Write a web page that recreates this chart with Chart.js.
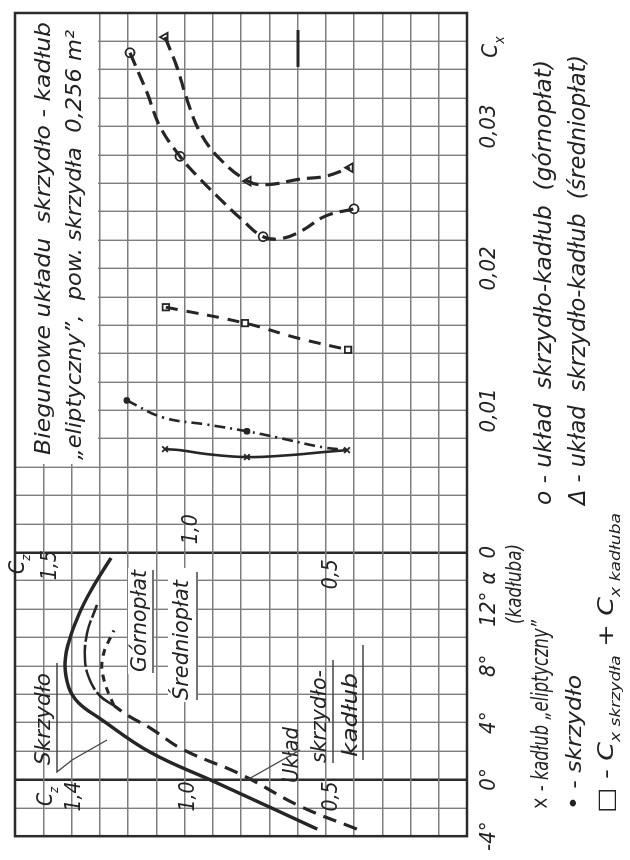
<!DOCTYPE html>
<html>
<head>
<meta charset="utf-8">
<script src="https://cdn.jsdelivr.net/npm/chart.js@4.4.1/dist/chart.umd.min.js"></script>
<style>
  html, body { margin: 0; padding: 0; background: #fff; overflow: hidden; }
  /* the whole figure is printed turned on its side */
  #obrot { position: absolute; left: 0; top: 860px; width: 860px; height: 630px;
           transform-origin: 0 0; transform: rotate(-90deg); }
</style>
</head>
<body>
<div id="obrot"><canvas id="wykres" width="860" height="630"></canvas></div>
<script>
// --- Cz(alfa), lewa czesc wykresu ---
const alfaSkrzydlo = [-3.5, -0.2, 1.9, 4.3, 5.4, 6.5, 8.2, 10.0, 12.1, 13.8, 15.6];
const czSkrzydlo   = [0.53, 0.89, 1.12, 1.30, 1.375, 1.41, 1.423, 1.405, 1.363, 1.317, 1.26];
const alfaUklad    = [-3.5, -1.9, 0.35, 2.1, 3.6, 4.5, 5.2];
const czUklad      = [0.39, 0.59, 0.80, 1.005, 1.12, 1.20, 1.25];
const alfaGorno    = [5.2, 5.9, 7.0, 8.4, 10.3, 12.3];
const czGorno      = [1.25, 1.30, 1.335, 1.352, 1.345, 1.31];
const alfaSrednio  = [5.2, 7.0, 8.6, 10.5];
const czSrednio    = [1.25, 1.285, 1.29, 1.25];

// --- biegunowe Cz(Cx), prawa czesc ---
const cxKadlub  = [0.00727, 0.0072, 0.00692, 0.00671, 0.00685, 0.00706, 0.0072];
const czKadlub  = [1.069, 1.016, 0.92, 0.779, 0.627, 0.51, 0.425];
const cxSkrz    = [0.0107, 0.0095, 0.0090, 0.00853, 0.0081, 0.0074, 0.0072];
const czSkrz    = [1.204, 1.076, 0.92, 0.779, 0.673, 0.51, 0.414];
const cxSuma    = [0.01727, 0.01615, 0.0151, 0.01427];
const czSuma    = [1.066, 0.786, 0.60, 0.421];
const cxGorno   = [0.0352, 0.0324, 0.0300, 0.0279, 0.0263, 0.0247, 0.0235, 0.02224, 0.0221, 0.0226, 0.0237, 0.0242];
const czGornoP  = [1.193, 1.133, 1.087, 1.016, 0.945, 0.864, 0.80, 0.722, 0.66, 0.59, 0.50, 0.40];
const cxSrednio = [0.0363, 0.0342, 0.0319, 0.0296, 0.0277, 0.02615, 0.0259, 0.0263, 0.0265, 0.0271];
const czSrednioP= [1.069, 1.027, 0.991, 0.945, 0.874, 0.775, 0.71, 0.59, 0.50, 0.414];
const cxKreska  = [0.0342, 0.0368];
const czKreska  = [0.598, 0.598];

// punkty pomiarowe (znaczniki)
const cxPktKadlub  = [0.00727, 0.00671, 0.0072];
const czPktKadlub  = [1.069, 0.779, 0.425];
const cxPktSkrz    = [0.0107, 0.00853];
const czPktSkrz    = [1.204, 0.779];
const cxPktSuma    = [0.01727, 0.01615, 0.01427];
const czPktSuma    = [1.066, 0.786, 0.421];
const cxPktGorno   = [0.0352, 0.0279, 0.02224, 0.0242];
const czPktGorno   = [1.193, 1.016, 0.722, 0.40];
const cxPktSrednio = [0.0363, 0.02615, 0.0271];
const czPktSrednio = [1.069, 0.775, 0.414];

// etykiety osi
const alfaEtykiety = [-4, 0, 4, 8, 12];
const cxEtykiety   = [0, 0.01, 0.02, 0.03];

const FONT = "'Liberation Sans Narrow', 'DejaVu Sans Condensed', 'DejaVu Sans', sans-serif";
const TUSZ = '#262626';
const ROZM_TICK = 22, PAD_TICK = 9;

function punkty(xs, ys) { return xs.map((x, i) => ({ x: x, y: ys[i] })); }

function linia(xs, ys, os, styl) {
    return Object.assign({
        xAxisID: os, yAxisID: 'y', data: punkty(xs, ys), showLine: true,
        pointRadius: 0, borderColor: TUSZ, borderWidth: 3, tension: 0.4, fill: false
    }, styl);
}

function znaczniki(xs, ys, ksztalt, r, wypelnienie) {
    return {
        xAxisID: 'xc', yAxisID: 'y', data: punkty(xs, ys), showLine: false,
        pointStyle: ksztalt, pointRadius: r, borderColor: TUSZ, borderWidth: 1.8,
        pointBackgroundColor: wypelnienie
    };
}

// tekst z indeksami dolnymi, sciskany do zadanej szerokosci
function pisz(ctx, czesci, x, y, rozmiar, szer, srodek) {
    ctx.save();
    const fN = `italic ${rozmiar}px ${FONT}`;
    const fS = `italic ${Math.round(rozmiar * 0.62)}px ${FONT}`;
    let w = 0;
    czesci.forEach(c => { ctx.font = c[1] ? fS : fN; w += ctx.measureText(c[0]).width; });
    const sx = szer ? szer / w : 1;
    ctx.translate(srodek ? x - w * sx / 2 : x, y);
    ctx.scale(sx, 1);
    ctx.fillStyle = '#222';
    ctx.textBaseline = 'alphabetic';
    let px = 0;
    czesci.forEach(c => {
        ctx.font = c[1] ? fS : fN;
        ctx.fillText(c[0], px, c[1] ? rozmiar * 0.3 : 0);
        px += ctx.measureText(c[0]).width;
    });
    ctx.restore();
}

function kreska(ctx, pts, w) {
    ctx.save();
    ctx.strokeStyle = '#444'; ctx.lineWidth = w || 1.3;
    ctx.beginPath();
    pts.forEach((p, i) => i ? ctx.lineTo(p[0], p[1]) : ctx.moveTo(p[0], p[1]));
    ctx.stroke();
    ctx.restore();
}

const opisy = {
    id: 'opisy',
    beforeDatasetsDraw(chart) {
        const { ctx, chartArea: a } = chart;
        ctx.save();
        ctx.fillStyle = '#fff';
        ctx.fillRect(396, a.top + 1, a.right - 397, 82);      // pole tytulu
        ctx.fillRect(186, 128, 106, 26);                       // Górnopłat
        ctx.fillRect(158, 168, 134, 30);                       // Średniopłat
        ctx.strokeStyle = '#2b2b2b'; ctx.lineWidth = 2.5;
        ctx.strokeRect(a.left, a.top, a.right - a.left, a.bottom - a.top);
        ctx.restore();
    },
    afterDraw(chart) {
        const ctx = chart.ctx;
        const xa = chart.scales.xa, xc = chart.scales.xc, y = chart.scales.y;
        const x0 = xa.getPixelForValue(0), xs = xc.getPixelForValue(0);
        const srodekTick = xa.top + PAD_TICK + ROZM_TICK * 0.6;

        // podzialka Cx pod osia (ta sama linia co stopnie alfa)
        ctx.save();
        ctx.font = `italic ${ROZM_TICK}px ${FONT}`;
        ctx.fillStyle = '#222';
        ctx.textAlign = 'center';
        ctx.textBaseline = 'middle';
        cxEtykiety.forEach(v => {
            ctx.fillText(v === 0 ? '0' : String(v).replace('.', ','), xc.getPixelForValue(v), srodekTick);
        });
        ctx.fillText('α', xa.getPixelForValue(14.2), srodekTick);
        ctx.restore();
        pisz(ctx, [['C'], ['x', true]], 813, srodekTick + 8, ROZM_TICK, 0, true);

        // tytul
        pisz(ctx, [['Biegunowe układu  skrzydło - kadłub']], 405, 50, 22, 433);
        pisz(ctx, [['„eliptyczny”,  pow. skrzydła  0,256 m²']], 400, 81, 22, 430);

        // opisy osi Cz
        pisz(ctx, [['C'], ['z', true]], x0 - 17, 52, 21, 0, true);
        pisz(ctx, [['1,4']], x0 - 17, y.getPixelForValue(1.4) + 8, 21, 0, true);
        pisz(ctx, [['1,0']], x0 - 17, y.getPixelForValue(1.0) + 9, 21, 0, true);
        pisz(ctx, [['0,5']], x0 - 17, y.getPixelForValue(0.5) + 11, 21, 0, true);
        pisz(ctx, [['C'], ['z', true]], xs - 12, 24, 21, 0, true);
        pisz(ctx, [['1,5']], xs - 13, y.getPixelForValue(1.5) + 13, 21, 0, true);
        pisz(ctx, [['0,5']], xs - 22, y.getPixelForValue(0.5) + 11, 21, 0, true);
        pisz(ctx, [['1,0']], xs + 23, y.getPixelForValue(1.0) + 12, 21, 0, true);

        // opisy krzywych Cz(alfa)
        pisz(ctx, [['Skrzydło']], 95, 50, 22, 92);
        kreska(ctx, [[197, 57], [88, 57], [100, 72], [120, 107]]);
        pisz(ctx, [['Górnopłat']], 188, 146, 21, 102);
        kreska(ctx, [[187, 153], [290, 153]]);
        pisz(ctx, [['Średniopłat']], 160, 188, 21, 120);
        kreska(ctx, [[160, 197], [288, 197]]);
        pisz(ctx, [['Układ']], 77, 298, 21, 56);
        pisz(ctx, [['skrzydło-']], 97, 326, 21, 93);
        kreska(ctx, [[97, 333], [200, 333]]);
        pisz(ctx, [['kadłub']], 103, 357, 21, 84);
        kreska(ctx, [[100, 363], [215, 363]]);
        kreska(ctx, [[110, 300], [80, 247]]);

        pisz(ctx, [['(kadłuba)']], 236, 521, 21, 80);

        // legenda
        pisz(ctx, [['× - kadłub „eliptyczny”']], 50, 548, 23, 190);
        pisz(ctx, [['• - skrzydło']], 50, 581, 22, 135);
        pisz(ctx, [['□ - C'], ['x skrzydła', true], [' + C'], ['x kadłuba', true]], 47, 613, 22, 300);
        pisz(ctx, [['o - układ  skrzydło-kadłub  (górnopłat)']], 355, 551, 23, 445);
        pisz(ctx, [['Δ - układ  skrzydło-kadłub  (średniopłat)']], 355, 585, 23, 450);
    }
};

const osGrubo = v => v === 0 || v === 16;

new Chart(document.getElementById('wykres'), {
    type: 'scatter',
    data: {
        datasets: [
            linia(alfaSkrzydlo, czSkrzydlo, 'xa', { borderWidth: 3.4 }),
            linia(alfaUklad, czUklad, 'xa', { borderWidth: 3.2, borderDash: [14, 8] }),
            linia(alfaGorno, czGorno, 'xa', { borderWidth: 2.6, borderDash: [22, 3] }),
            linia(alfaSrednio, czSrednio, 'xa', { borderDash: [7, 6] }),

            linia(cxKadlub, czKadlub, 'xc', { borderWidth: 2.6 }),
            linia(cxSkrz, czSkrz, 'xc', { borderWidth: 2.6, borderDash: [11, 5, 2, 5] }),
            linia(cxSuma, czSuma, 'xc', { borderDash: [12, 9] }),
            linia(cxGorno, czGornoP, 'xc', { borderWidth: 3.2, borderDash: [14, 7] }),
            linia(cxSrednio, czSrednioP, 'xc', { borderWidth: 3.2, borderDash: [14, 7] }),
            linia(cxKreska, czKreska, 'xc', { borderWidth: 3, tension: 0 }),

            znaczniki(cxPktKadlub, czPktKadlub, 'crossRot', 4, TUSZ),
            znaczniki(cxPktSkrz, czPktSkrz, 'circle', 2.5, TUSZ),
            znaczniki(cxPktSuma, czPktSuma, 'rect', 4.5, '#fff'),
            znaczniki(cxPktGorno, czPktGorno, 'circle', 4.5, '#fff'),
            znaczniki(cxPktSrednio, czPktSrednio, 'triangle', 5, '#fff')
        ]
    },
    options: {
        responsive: false,
        animation: false,
        layout: { padding: { top: 15, right: 13, left: 0, bottom: 0 } },
        plugins: { legend: { display: false }, tooltip: { enabled: false } },
        scales: {
            xa: {
                type: 'linear', position: 'bottom', min: -4, max: 54, weight: 0,
                afterFit: s => { s.height = 163; },
                border: { display: false },
                grid: {
                    drawTicks: false,
                    color: c => osGrubo(c.tick.value) ? '#2b2b2b' : '#7e7e7e',
                    lineWidth: c => osGrubo(c.tick.value) ? 2.5 : 1.4
                },
                ticks: {
                    stepSize: 2, autoSkip: false, maxRotation: 0, minRotation: 0, padding: PAD_TICK,
                    color: '#222', font: { family: FONT, size: ROZM_TICK, style: 'italic' },
                    callback: v => alfaEtykiety.includes(v) ? v + '°' : ''
                }
            },
            xc: {
                type: 'linear', position: 'bottom', min: -0.02, max: 0.038, weight: 1,
                afterFit: s => { s.height = 0; },
                border: { display: false },
                grid: { display: false, drawTicks: false },
                ticks: { display: false }
            },
            y: {
                min: 0, max: 1.6, position: 'left',
                afterFit: s => { s.width = 18; },
                border: { display: false },
                grid: { drawTicks: false, color: '#7e7e7e', lineWidth: 1.4 },
                ticks: { display: false, stepSize: 0.1 }
            }
        }
    },
    plugins: [opisy]
});
</script>
</body>
</html>
